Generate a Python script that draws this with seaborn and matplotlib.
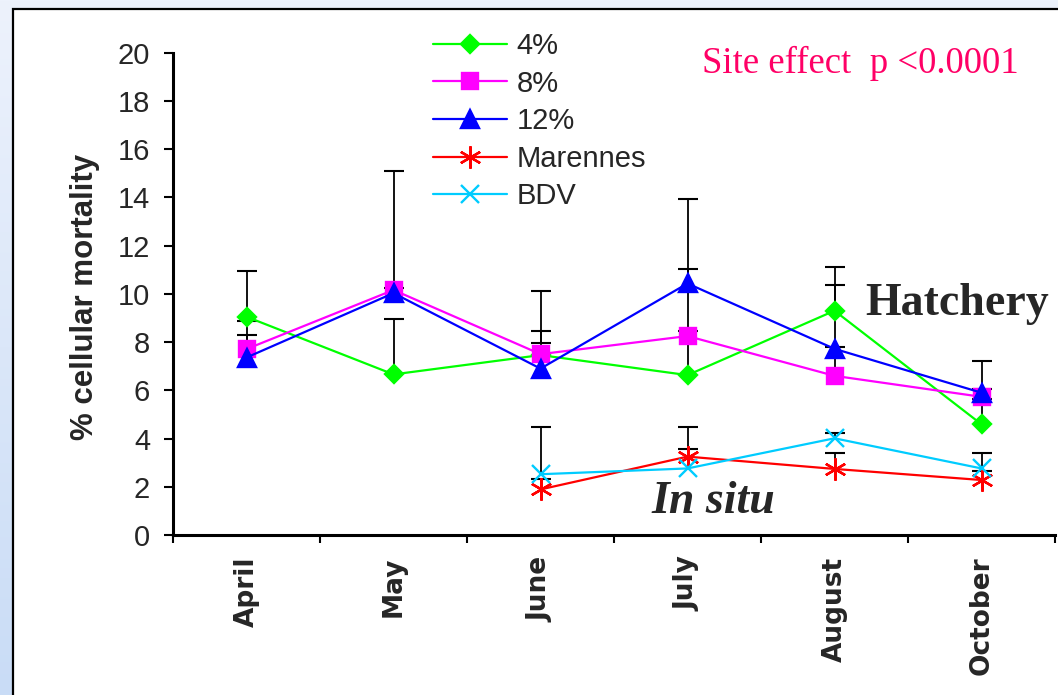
import numpy as np
import pandas as pd
import matplotlib
matplotlib.use('Agg')
import matplotlib.pyplot as plt
from matplotlib.colors import LinearSegmentedColormap
from matplotlib.patches import Rectangle
import seaborn as sns

# ---------------- data ----------------
months = ['April', 'May', 'June', 'July', 'August', 'October']
insitu_months = ['June', 'July', 'August', 'October']

pct4 = [9.05, 6.66, 7.46, 6.63, 9.30, 4.59]
pct8 = [7.71, 10.16, 7.50, 8.25, 6.60, 5.73]
pct12 = [7.36, 10.03, 6.90, 10.43, 7.72, 5.90]
marennes = [1.89, 3.25, 2.74, 2.28]
bdv = [2.52, 2.76, 4.01, 2.76]

# upper error bars (plus only)
err4 = [1.90, 2.30, 0.50, 1.83, 1.81, 1.05]
err8 = [0.58, 4.93, 2.62, 2.78, 1.19, 0.32]
err12 = [1.51, 0.20, 1.56, 3.50, 2.64, 1.31]
err_marennes = [0.43, 0.32, 0.66, 0.37]
err_bdv = [1.96, 1.72, 0.22, 0.64]

series_names = ['4%', '8%', '12%', 'Marennes', 'BDV']
yticks = list(range(0, 21, 2))

series = [
    ('4%', months, pct4, err4, '#00FF00', 'D', 9.5),
    ('8%', months, pct8, err8, '#FF00FF', 's', 11),
    ('12%', months, pct12, err12, '#0000FF', '^', 13.5),
    ('Marennes', insitu_months, marennes, err_marennes, '#FF0000', (6, 2, 0), 16),
    ('BDV', insitu_months, bdv, err_bdv, '#00CCFF', 'x', 12.5),
]

rows = []
for name, ms_, vals, errs, *_ in series:
    for m, v, e in zip(ms_, vals, errs):
        rows.append({'series': name, 'month': m, 'pos': months.index(m) + 0.5,
                     'value': v, 'err': e})
df = pd.DataFrame(rows)

# ---------------- style ----------------
sns.set_style('ticks')
plt.rcParams['font.family'] = ['Liberation Sans', 'DejaVu Sans']

W, H = 1058, 695
fig = plt.figure(figsize=(W / 100, H / 100), dpi=100)

# background gradient + white panel
bg = fig.add_axes([0, 0, 1, 1], zorder=-10)
bg.set_xlim(0, 1)
bg.set_ylim(0, 1)
bg.axis('off')
cmap = LinearSegmentedColormap.from_list('bgc', ['#EDF2FC', '#C9DCF6'])
bg.imshow(np.linspace(0, 1, 256).reshape(-1, 1), aspect='auto', cmap=cmap,
          extent=[0, 1, 0, 1], origin='upper')
bg.add_patch(Rectangle((13 / W, -0.05), 1.2, 1.05 - 8.5 / H,
                       facecolor='white', edgecolor='black', lw=1.6,
                       transform=bg.transAxes))

ax = fig.add_axes([173 / W, 1 - 535 / H, (1055 - 173) / W, (535 - 52.7) / H])
ax.patch.set_alpha(0)

# error bars (upper only)
for name, ms_, vals, errs, color, marker, msz in series:
    sub = df[df['series'] == name]
    eb = ax.errorbar(sub['pos'], sub['value'],
                     yerr=[np.zeros(len(sub)), sub['err']],
                     fmt='none', ecolor='black', elinewidth=1.3,
                     capsize=7.5, capthick=1.5, zorder=1.5)
    eb[1][0].set_visible(False)

# lines with markers
for name, ms_, vals, errs, color, marker, msz in series:
    sub = df[df['series'] == name]
    sns.lineplot(data=sub, x='pos', y='value', ax=ax, color=color,
                 marker=marker, markersize=msz, markeredgecolor=color,
                 markerfacecolor=color, markeredgewidth=1.7,
                 linewidth=1.6, label=name, errorbar=None, sort=False,
                 zorder=3)

# axes
ax.set_xlim(0, 6)
ax.set_ylim(0, 20)
ax.set_yticks(yticks)
ax.set_yticklabels([str(t) for t in yticks], fontsize=21)
ax.set_xticks(range(0, 7))
ax.set_xticklabels([])
ax.set_xticks([i + 0.5 for i in range(len(months))], minor=True)
ax.set_xticklabels(months, minor=True, rotation=90, fontsize=19,
                   fontweight='bold', family='DejaVu Sans', va='top')
ax.tick_params(axis='x', which='major', direction='out', length=6, width=1.5,
               color='black')
ax.tick_params(axis='x', which='minor', length=0, pad=15.5)
ax.tick_params(axis='y', direction='out', length=6.5, width=1.5, pad=10,
               color='black')
for s in ['top', 'right']:
    ax.spines[s].set_visible(False)
for s in ['left', 'bottom']:
    ax.spines[s].set_linewidth(2.2)
    ax.spines[s].set_color('black')

ax.set_xlabel('')
ax.set_ylabel('% cellular mortality', fontsize=22.5, fontweight='bold')
ax.yaxis.set_label_coords(-0.083, 0.494)

# legend
handles, labels = ax.get_legend_handles_labels()
order = [labels.index(n) for n in series_names]
ax.legend([handles[i] for i in order], [labels[i] for i in order],
          loc='upper left', bbox_to_anchor=(433 / W, 1 - 32 / H),
          bbox_transform=fig.transFigure, frameon=False, fontsize=21,
          handlelength=2.55, handletextpad=0.32, labelspacing=0.33,
          borderpad=0, borderaxespad=0)

# annotations
ax.text(3.599, 19.15, 'Site effect  p <0.0001', color='#FF0066',
        fontsize=26.5, family='Liberation Serif', va='baseline', ha='left')
ax.text(3.673, 0.91, 'In situ', fontsize=33, family='Liberation Serif',
        fontweight='bold', fontstyle='italic', va='baseline', ha='center')
ax.text(4.707, 9.12, 'Hatchery', fontsize=33, family='Liberation Serif',
        fontweight='bold', va='baseline', ha='left', clip_on=False)

fig.savefig('out.png', dpi=100)
